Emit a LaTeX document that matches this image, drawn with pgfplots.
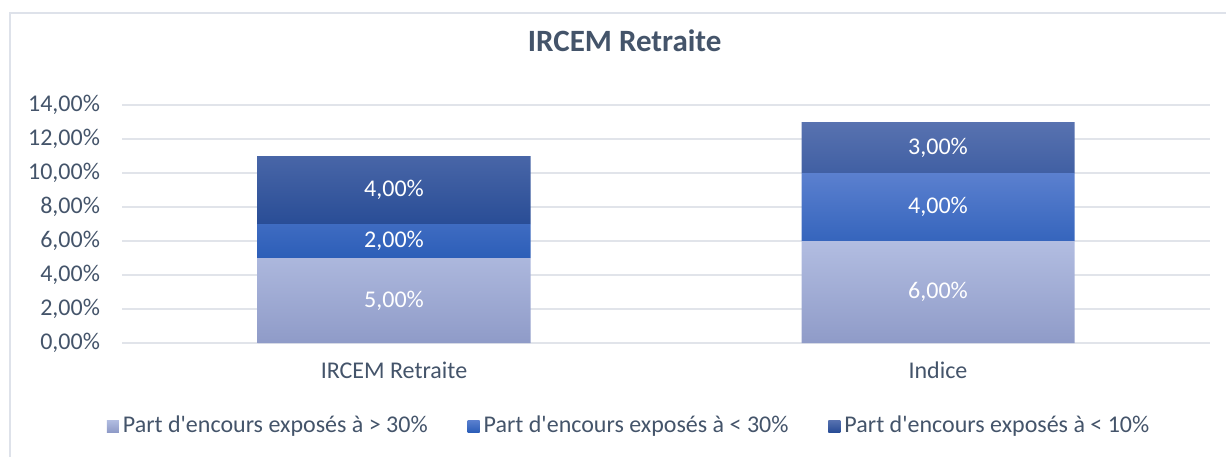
\documentclass[border=0pt]{standalone}
\usepackage{fontspec}
\setmainfont{Carlito}[Ligatures=TeXOff]
\usepackage{pgfplots}
\usepackage{pgfplotstable}
\pgfplotsset{compat=1.18}
\definecolor{txt}{HTML}{44546A}
\definecolor{gridc}{HTML}{E1E4EA}
\definecolor{framec}{HTML}{DEE2EA}
\definecolor{aT}{HTML}{B2BDE1}
\definecolor{aB}{HTML}{8F9BC8}
\definecolor{bT}{HTML}{5B80CF}
\definecolor{bB}{HTML}{2C5EB8}
\definecolor{cT}{HTML}{5872B0}
\definecolor{cB}{HTML}{294D96}
\pgfplotstableread{
x a b c
0 5 2 4
1 6 4 3
}\data
\begin{document}
\begin{tikzpicture}
\useasboundingbox (0,0) rectangle (613pt,-228.5pt);
\draw[framec, line width=0.7pt] (5pt,-228.5pt) -- (5pt,-6.5pt) -- (613pt,-6.5pt);
\begin{axis}[
  at={(61pt,-171.5pt)}, anchor=south west,
  scale only axis, width=544pt, height=119pt,
  ybar stacked, bar width=136.5pt,
  xmin=-0.5, xmax=1.5, ymin=0, ymax=14,
  xtick={0,1}, xticklabels={IRCEM Retraite,Indice},
  ytick={0,2,...,14},
  yticklabels={{0,00\%},{2,00\%},{4,00\%},{6,00\%},{8,00\%},{10,00\%},{12,00\%},{14,00\%}},
  axis line style={draw=none},
  major tick length=0pt,
  ymajorgrids, major grid style={gridc, line width=0.7pt},
  tick label style={font=\fontsize{12}{14}\selectfont, text=txt},
  xticklabel style={yshift=-6pt},
  yticklabel style={xshift=-7.5pt},
  title={IRCEM Retraite},
  title style={at={(0.462,1)}, anchor=center, yshift=26pt, font=\bfseries\fontsize{15.5}{18}\selectfont, text=txt},
  legend columns=3,
  legend style={at={(0.467,0)}, anchor=center, yshift=-41.5pt, draw=none, fill=none, font=\fontsize{12}{14}\selectfont, text=txt, /tikz/every even column/.append style={column sep=18pt}},
  legend image code/.code={\path[#1, draw=none] (-1.5pt,-3pt) rectangle (4.5pt,3pt);},
  nodes near coords={\pgfmathprintnumber[fixed,fixed zerofill,precision=2,use comma,assume math mode=true]{\rawy}\%},
  every node near coord/.append style={anchor=center, text=white, font=\fontsize{12}{14}\selectfont},
  clip=false,
]
\addplot[draw=none, top color=aT, bottom color=aB, visualization depends on={\thisrow{a}\as\rawy}] table[x=x,y=a]{\data};
\addplot[draw=none, top color=bT, bottom color=bB, visualization depends on={\thisrow{b}\as\rawy}] table[x=x,y=b]{\data};
\addplot[draw=none, top color=cT, bottom color=cB, visualization depends on={\thisrow{c}\as\rawy}] table[x=x,y=c]{\data};
\legend{Part d'encours exposés à > 30\%, Part d'encours exposés à < 30\%, Part d'encours exposés à < 10\%}
\end{axis}
\end{tikzpicture}
\end{document}
